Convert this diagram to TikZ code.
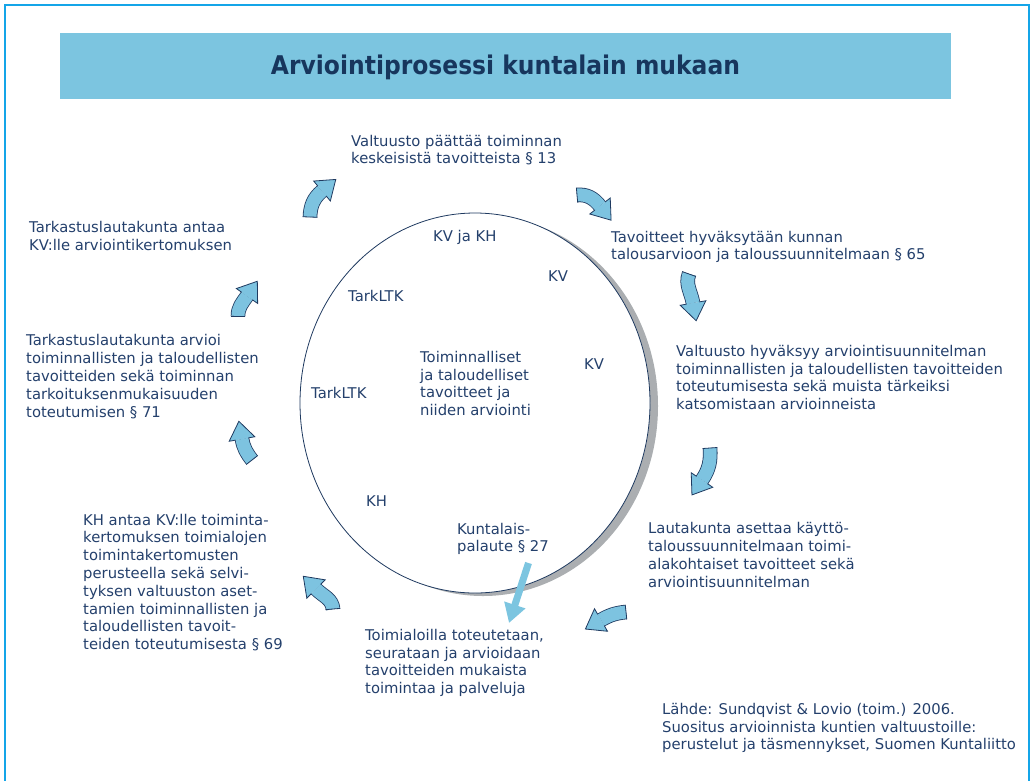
\documentclass[tikz,border=0pt]{standalone}
\usepackage{fontspec}
\usepackage{graphicx}
\setmainfont{DejaVu Sans}
\usetikzlibrary{calc,arrows.meta}
\definecolor{arrline}{HTML}{1F3A60}
\definecolor{arrfill}{HTML}{7DC3E0}
\definecolor{titfill}{HTML}{7CC5E0}
\definecolor{titc}{HTML}{17365D}
\definecolor{txtc}{HTML}{24406C}
\definecolor{framec}{HTML}{14A5E8}
\definecolor{shadc}{HTML}{ABAEB1}
\newcommand\carw[7]{% name, Tx, Ty, out angle, Bx, By, head angle
  \coordinate (#1t) at (#2,-#3);
  \coordinate (#1b) at (#5,-#6);
  \pgfmathsetmacro\inang{#7+180}
  \draw[arrline, line width=14.6pt] (#1t) to[out=#4, in=\inang] (#1b);
  \draw[arrfill, line width=13pt] (#1t) to[out=#4, in=\inang] (#1b);
  \draw[arrline, line width=0.8pt] ($(#1t)+({#4+90}:7.3)$) -- ($(#1t)+({#4-90}:7.3)$);
  \filldraw[fill=arrfill, draw=arrline, line width=0.8pt, line join=miter]
    ($(#1b)+({#7+90}:6.5)$) -- ($(#1b)+({#7+90}:13)$) -- ($(#1b)+(#7:18)$)
    -- ($(#1b)+({#7-90}:13)$) -- ($(#1b)+({#7-90}:6.5)$);
}
\begin{document}
\begin{tikzpicture}[x=1pt,y=1pt,
  txt/.style={font=\fontsize{14.8}{17.8}\selectfont, text=txtc, inner sep=0pt, anchor=west, align=left}]
\useasboundingbox (0,0) rectangle (1032,-780);
% frame
\draw[framec, line width=2pt] (5,-790) -- (5,-5) -- (1029,-5) -- (1029,-790);
% title
\fill[titfill] (60,-33) rectangle (951,-99);
\node[font=\fontsize{23}{27}\selectfont\bfseries, text=titc, inner sep=0pt] (title) at (505.5,-67)
  {\resizebox{469pt}{1.12\height}{Arviointiprosessi kuntalain mukaan}};
% circle with shadow
\fill[shadc] (483,-406) ellipse [x radius=175, y radius=190];
\filldraw[fill=white, draw=arrline, line width=0.8pt] (475,-403) ellipse [x radius=175, y radius=190];
\coordinate (circ) at (475,-403);
% inner labels
\node[txt] (kvkh) at (433,-237) {KV ja KH};
\node[txt] (kv1) at (548,-276) {KV};
\node[txt] (tark1) at (348,-296) {TarkLTK};
\node[txt] (kv2) at (584,-364) {KV};
\node[txt] (tark2) at (311,-393) {TarkLTK};
\node[txt] (center) at (420,-383.5) {Toiminnalliset\\ja taloudelliset\\tavoitteet ja\\niiden arviointi};
\node[txt] (kh) at (366,-501) {KH};
\node[txt] (palaute) at (457,-539) {Kuntalais-\\palaute § 27};
% outer texts
\node[txt] (s1) at (351,-150) {Valtuusto päättää toiminnan\\keskeisistä tavoitteista § 13};
\node[txt] (s2) at (611,-247) {Tavoitteet hyväksytään kunnan\\talousarvioon ja taloussuunnitelmaan § 65};
\node[txt] (s3) at (676,-377.5) {Valtuusto hyväksyy arviointisuunnitelman\\toiminnallisten ja taloudellisten tavoitteiden\\toteutumisesta sekä muista tärkeiksi\\katsomistaan arvioinneista};
\node[txt] (s4) at (648,-555) {Lautakunta asettaa käyttö-\\taloussuunnitelmaan toimi-\\alakohtaiset tavoitteet sekä\\arviointisuunnitelman};
\node[txt] (s5) at (365,-663) {Toimialoilla toteutetaan,\\seurataan ja arvioidaan\\tavoitteiden mukaista\\toimintaa ja palveluja};
\node[txt] (s6) at (83,-582.5) {KH antaa KV:lle toiminta-\\kertomuksen toimialojen\\toimintakertomusten\\perusteella sekä selvi-\\tyksen valtuuston aset-\\tamien toiminnallisten ja\\taloudellisten tavoit-\\teiden toteutumisesta § 69};
\node[txt] (s7) at (26,-376.5) {Tarkastuslautakunta arvioi\\toiminnallisten ja taloudellisten\\tavoitteiden sekä toiminnan\\tarkoituksenmukaisuuden\\toteutumisen § 71};
\node[txt] (s8) at (29,-236) {Tarkastuslautakunta antaa\\KV:lle arviointikertomuksen};
\node[txt] (src) at (662,-728) {Lähde: Sundqvist \& Lovio (toim.) 2006.\\Suositus arvioinnista kuntien valtuustoille:\\perustelut ja täsmennykset, Suomen Kuntaliitto};
% curved arrows
\carw{a1}{310}{217}{88}{322}{191}{40}
\carw{a2}{577}{195}{5}{600}{206}{-52}
\carw{a3}{689}{274}{-110}{693}{303}{-80}
\carw{a4}{710}{448}{-86}{702}{480}{-124}
\carw{a5}{626}{612}{186}{601}{620}{210}
\carw{a6}{333}{609}{95}{316}{589}{135}
\carw{a7}{252}{460}{128}{242}{439}{100}
\carw{a8}{238}{316}{90}{247}{296}{55}
% feedback arrow
\coordinate (fbs) at (528.5,-563);
\coordinate (fbe) at (509,-623);
\draw[titfill, line width=7pt, -{Triangle[width=21pt,length=19pt]}] (fbs) -- (fbe);
\end{tikzpicture}
\end{document}
